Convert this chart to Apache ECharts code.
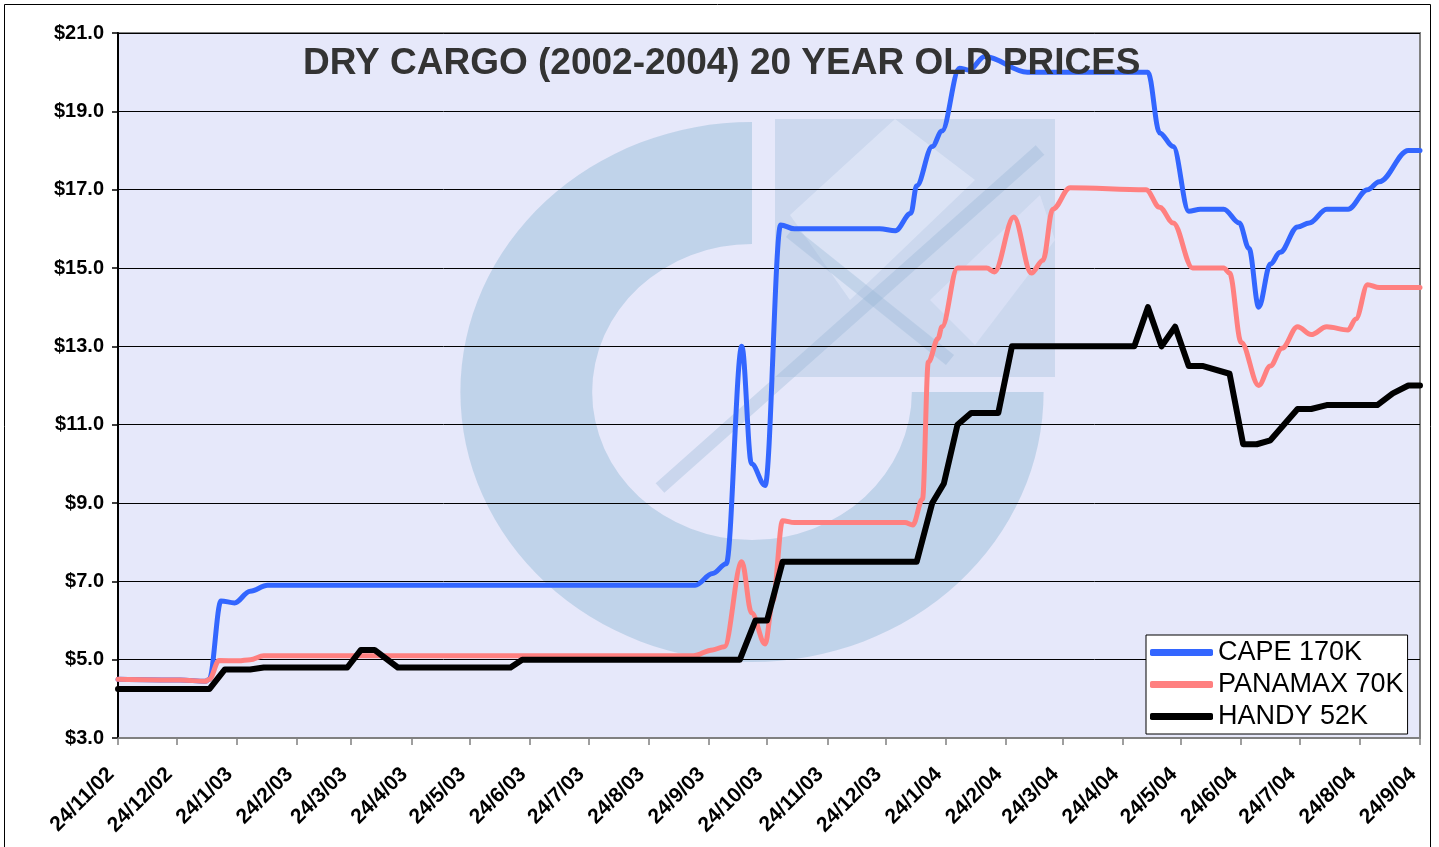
<!DOCTYPE html>
<html>
<head>
<meta charset="utf-8">
<script src="https://cdn.jsdelivr.net/npm/echarts@6/dist/echarts.min.js"></script>
<style>
  html, body { margin: 0; padding: 0; background: #fff; }
  #chart { width: 1439px; height: 847px; }
</style>
</head>
<body>
<div id="chart"></div>
<script>
// month ticks (24th of every month)
var tickDates = ['2002-11-24', '2002-12-24', '2003-01-24', '2003-02-24', '2003-03-24', '2003-04-24',
  '2003-05-24', '2003-06-24', '2003-07-24', '2003-08-24', '2003-09-24', '2003-10-24', '2003-11-24',
  '2003-12-24', '2004-01-24', '2004-02-24', '2004-03-24', '2004-04-24', '2004-05-24', '2004-06-24',
  '2004-07-24', '2004-08-24', '2004-09-24']
var tickLabels = ['24/11/02', '24/12/02', '24/1/03', '24/2/03', '24/3/03', '24/4/03', '24/5/03',
  '24/6/03', '24/7/03', '24/8/03', '24/9/03', '24/10/03', '24/11/03', '24/12/03', '24/1/04',
  '24/2/04', '24/3/04', '24/4/04', '24/5/04', '24/6/04', '24/7/04', '24/8/04', '24/9/04']

var capeDates = ['2002-11-24', '2002-12-26', '2003-01-08', '2003-01-10', '2003-01-16', '2003-01-23',
  '2003-01-31', '2003-02-09', '2003-09-17', '2003-09-26', '2003-10-03', '2003-10-11', '2003-10-16',
  '2003-10-23', '2003-10-31', '2003-11-07', '2003-12-21', '2003-12-29', '2004-01-06', '2004-01-09',
  '2004-01-17', '2004-01-22', '2004-01-31', '2004-02-05', '2004-02-13', '2004-03-06', '2004-05-03',
  '2004-05-07', '2004-05-13', '2004-05-20', '2004-05-28', '2004-06-03', '2004-06-15', '2004-06-23',
  '2004-06-28', '2004-07-03', '2004-07-09', '2004-07-14', '2004-07-23', '2004-07-29', '2004-08-07',
  '2004-08-18', '2004-08-28', '2004-09-03', '2004-09-18', '2004-09-24']
var capeValues = [4.5, 4.48, 4.45, 4.5, 6.5, 6.45,
  6.75, 6.9, 6.9, 7.2, 7.45, 13.0, 10.0,
  9.45, 16.1, 16.0, 16.0, 15.95, 16.4, 17.1,
  18.1, 18.5, 20.1, 20.05, 20.4, 20.0, 20.0,
  20.0, 18.45, 18.1, 16.45, 16.5, 16.5, 16.15,
  15.5, 14.0, 15.1, 15.4, 16.05, 16.15, 16.5,
  16.5, 17.0, 17.2, 18.0, 18.0]

var panamaxDates = ['2002-11-24', '2002-12-26', '2003-01-08', '2003-01-10', '2003-01-15', '2003-01-25',
  '2003-01-31', '2003-02-07', '2003-09-16', '2003-09-26', '2003-10-02', '2003-10-11', '2003-10-16',
  '2003-10-23', '2003-10-27', '2003-11-01', '2003-11-07', '2004-01-03', '2004-01-07', '2004-01-12',
  '2004-01-15', '2004-01-20', '2004-01-22', '2004-01-30', '2004-02-14', '2004-02-18', '2004-02-28',
  '2004-03-08', '2004-03-14', '2004-03-19', '2004-03-28', '2004-05-06', '2004-05-13', '2004-05-20',
  '2004-05-30', '2004-06-15', '2004-06-18', '2004-06-24', '2004-07-03', '2004-07-09', '2004-07-15',
  '2004-07-23', '2004-07-30', '2004-08-07', '2004-08-18', '2004-08-22', '2004-08-28', '2004-09-03',
  '2004-09-24']
var panamaxValues = [4.5, 4.48, 4.45, 4.5, 4.98, 4.97,
  5.0, 5.1, 5.1, 5.25, 5.33, 7.5, 6.2,
  5.4, 6.5, 8.55, 8.5, 8.5, 8.44, 9.1,
  12.6, 13.2, 13.5, 15.0, 15.0, 14.9, 16.3,
  14.87, 15.2, 16.5, 17.05, 17.0, 16.55, 16.15,
  15.0, 15.0, 14.87, 13.1, 12.0, 12.5, 12.95,
  13.5, 13.3, 13.5, 13.42, 13.7, 14.57, 14.5,
  14.5]

var handyDates = ['2002-11-24', '2003-01-10', '2003-01-18', '2003-01-31', '2003-02-07', '2003-03-22',
  '2003-03-29', '2003-04-05', '2003-04-17', '2003-06-14', '2003-06-20', '2003-10-10', '2003-10-18',
  '2003-10-24', '2003-11-01', '2004-01-09', '2004-01-17', '2004-01-23', '2004-01-30', '2004-02-06',
  '2004-02-20', '2004-02-27', '2004-04-30', '2004-05-07', '2004-05-14', '2004-05-21', '2004-05-28',
  '2004-06-04', '2004-06-18', '2004-06-25', '2004-07-02', '2004-07-09', '2004-07-23', '2004-07-30',
  '2004-08-07', '2004-09-02', '2004-09-10', '2004-09-18', '2004-09-24']
var handyValues = [4.25, 4.25, 4.75, 4.75, 4.8, 4.8,
  5.25, 5.25, 4.8, 4.8, 5.0, 5.0, 6.0,
  6.0, 7.5, 7.5, 9.0, 9.5, 11.0, 11.3,
  11.3, 13.0, 13.0, 14.0, 13.0, 13.5, 12.5,
  12.5, 12.3, 10.5, 10.5, 10.6, 11.4, 11.4,
  11.5, 11.5, 11.8, 12.0, 12.0]

function ts (s) {
  var p = s.split('-')
  return new Date(+p[0], +p[1] - 1, +p[2]).getTime()
}
function pairs (dates, values) {
  return dates.map(function (d, i) { return [ts(d), values[i]] })
}

var tickTimes = tickDates.map(ts)
var font = '"Liberation Sans", Arial, sans-serif'
var wm = 'rgba(140,180,212,0.42)'

var chart = echarts.init(document.getElementById('chart'))
chart.setOption({
  backgroundColor: '#fff',
  animation: false,
  title: {
    text: 'DRY CARGO (2002-2004) 20 YEAR OLD PRICES',
    left: 303,
    top: 45,
    padding: 0,
    textStyle: { fontFamily: font, fontSize: 37, fontWeight: 'bold', color: '#333' }
  },
  graphic: [
    // outer frame
    { type: 'rect', z: 0, silent: true, shape: { x: 4.5, y: 4.5, width: 1426, height: 860 },
      style: { fill: null, stroke: '#000', lineWidth: 1 } },
    // watermark logo behind the plot
    { type: 'sector', z: 1, silent: true, x: 752, y: 392, scaleX: 1.08,
      shape: { cx: 0, cy: 0, r: 270, r0: 148, startAngle: 0, endAngle: Math.PI * 1.5 },
      style: { fill: wm } },
    { type: 'rect', z: 1, silent: true, shape: { x: 775, y: 119, width: 280, height: 258 },
      style: { fill: 'rgba(150,185,215,0.32)' } },
    { type: 'polygon', z: 1, silent: true,
      shape: { points: [[790, 215], [895, 119], [975, 180], [850, 300]] },
      style: { fill: 'rgba(232,236,252,0.55)' } },
    { type: 'polygon', z: 1, silent: true,
      shape: { points: [[930, 300], [1040, 195], [1055, 240], [975, 345]] },
      style: { fill: 'rgba(232,236,252,0.45)' } },
    { type: 'line', z: 1, silent: true, shape: { x1: 660, y1: 488, x2: 1040, y2: 150 },
      style: { stroke: 'rgba(150,180,212,0.35)', lineWidth: 13 } },
    { type: 'line', z: 1, silent: true, shape: { x1: 790, y1: 232, x2: 950, y2: 360 },
      style: { stroke: 'rgba(150,180,212,0.35)', lineWidth: 13 } }
  ],
  legend: {
    orient: 'vertical',
    left: 1146,
    top: 635,
    z: 6,
    icon: 'roundRect',
    itemWidth: 63,
    itemHeight: 7,
    itemGap: 5,
    padding: [4, 4, 4, 4],
    backgroundColor: '#fff',
    borderColor: '#000',
    borderWidth: 1,
    borderRadius: 0,
    textStyle: { fontFamily: font, fontSize: 27, color: '#000', lineHeight: 26 },
    data: ['CAPE 170K', 'PANAMAX 70K', 'HANDY 52K']
  },
  grid: {
    left: 118,
    top: 33,
    right: 19,
    bottom: 109,
    show: true,
    backgroundColor: '#e6e8fa',
    borderColor: '#808080',
    borderWidth: 2
  },
  xAxis: {
    type: 'value',
    z: 3,
    min: tickTimes[0],
    max: tickTimes[tickTimes.length - 1],
    axisLine: { lineStyle: { color: '#808080', width: 2 } },
    axisTick: { show: true, customValues: tickTimes, length: 7, lineStyle: { color: '#808080', width: 1.5 } },
    splitLine: { show: false },
    axisLabel: {
      customValues: tickTimes,
      rotate: 45,
      margin: 26,
      padding: [0, 10, 0, 0],
      fontFamily: font,
      fontSize: 21,
      fontWeight: 'bold',
      color: '#000',
      formatter: function (v) {
        var i = tickTimes.indexOf(v)
        return i >= 0 ? tickLabels[i] : ''
      }
    }
  },
  yAxis: {
    type: 'value',
    z: 3,
    min: 3,
    max: 21,
    interval: 2,
    axisLine: { show: true, lineStyle: { color: '#000', width: 2 } },
    axisTick: { show: true, length: 6, lineStyle: { color: '#000', width: 1.5 } },
    splitLine: { show: true, lineStyle: { color: '#000', width: 1 } },
    axisLabel: {
      margin: 14,
      fontFamily: font,
      fontSize: 20,
      fontWeight: 'bold',
      color: '#000',
      formatter: function (v) { return '$' + v.toFixed(1) }
    }
  },
  series: [
    {
      name: 'CAPE 170K',
      type: 'line',
      z: 4,
      smooth: 0.35,
      smoothMonotone: 'x',
      symbol: 'none',
      color: '#3366ff',
      lineStyle: { width: 5, color: '#3366ff', cap: 'round', join: 'round' },
      data: pairs(capeDates, capeValues)
    },
    {
      name: 'PANAMAX 70K',
      type: 'line',
      z: 4,
      smooth: 0.35,
      smoothMonotone: 'x',
      symbol: 'none',
      color: '#ff8080',
      lineStyle: { width: 5, color: '#ff8080', cap: 'round', join: 'round' },
      data: pairs(panamaxDates, panamaxValues)
    },
    {
      name: 'HANDY 52K',
      type: 'line',
      z: 5,
      smooth: false,
      symbol: 'none',
      color: '#000',
      lineStyle: { width: 6, color: '#000', cap: 'round', join: 'round' },
      data: pairs(handyDates, handyValues)
    }
  ]
})
</script>
</body>
</html>
